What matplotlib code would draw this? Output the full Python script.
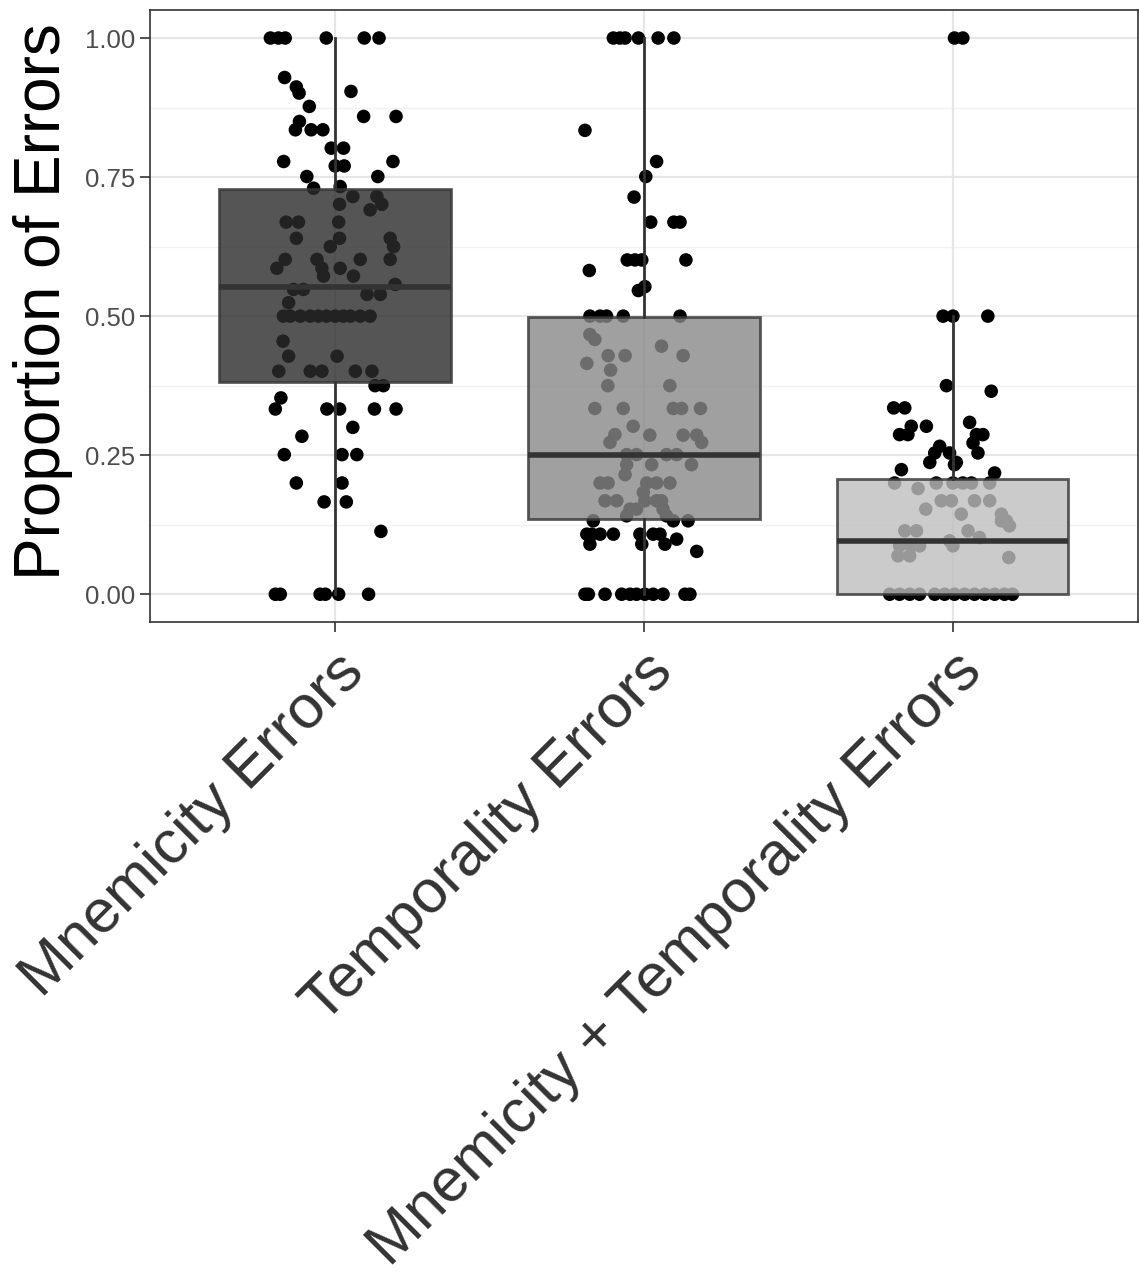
import numpy as np
import matplotlib.pyplot as plt

plt.rcParams['font.family'] = ['Liberation Sans', 'DejaVu Sans']

categories = ["Mnemicity Errors", "Temporality Errors", "Mnemicity + Temporality Errors"]
box_fill = ["#2b2b2b", "#888888", "#bfbfbf"]

# box statistics (q1, median, q3, whisker low, whisker high)
q1 = [0.381, 0.136, 0.0]
medians = [0.553, 0.250, 0.095]
q3 = [0.729, 0.499, 0.208]
whis_lo = [0.0, 0.0, 0.0]
whis_hi = [1.0, 1.0, 0.50]

# jittered observations: value and horizontal jitter (category units)
mnem_y = [1.0, 1.0, 1.0, 1.0, 1.0, 1.0, 0.929, 0.912, 0.901, 0.904, 0.877, 0.859, 0.859,
          0.850, 0.835, 0.835, 0.835, 0.802, 0.802, 0.778, 0.778, 0.770, 0.770, 0.751, 0.751,
          0.730, 0.733, 0.715, 0.715, 0.701, 0.701, 0.691, 0.669, 0.669, 0.669, 0.640, 0.640,
          0.640, 0.625, 0.625, 0.602, 0.602, 0.602, 0.602, 0.586, 0.586, 0.586, 0.572, 0.572,
          0.557, 0.548, 0.548, 0.539, 0.539, 0.524, 0.50, 0.50, 0.50, 0.50, 0.50, 0.50, 0.50,
          0.50, 0.50, 0.50, 0.50, 0.455, 0.428, 0.428, 0.401, 0.401, 0.401, 0.401, 0.401,
          0.375, 0.375, 0.353, 0.333, 0.333, 0.333, 0.333, 0.333, 0.300, 0.284, 0.251, 0.251,
          0.251, 0.200, 0.200, 0.166, 0.166, 0.113, 0.0, 0.0, 0.0, 0.0, 0.0, 0.0]
mnem_jit = [-0.210, -0.184, -0.162, -0.029, 0.094, 0.142, -0.164, -0.126, -0.117, 0.051, -0.084,
            0.092, 0.197, -0.116, -0.129, -0.078, -0.040, -0.013, 0.027, -0.167, 0.187, 0.0,
            0.029, -0.092, 0.138, -0.070, 0.016, 0.057, 0.135, 0.014, 0.151, 0.113, -0.159,
            -0.119, 0.011, -0.126, 0.014, 0.178, -0.016, 0.189, -0.162, -0.059, 0.081, 0.178,
            -0.189, -0.043, 0.016, -0.038, 0.059, 0.194, -0.135, -0.103, 0.103, 0.146, -0.151,
            -0.168, -0.146, -0.113, -0.081, -0.055, -0.029, 0.0, 0.026, 0.049, 0.081, 0.113,
            -0.169, -0.151, 0.006, -0.183, -0.081, -0.043, 0.065, 0.119, 0.129, 0.156, -0.176,
            -0.194, -0.027, 0.014, 0.127, 0.197, 0.057, -0.108, -0.165, 0.022, 0.070, -0.126,
            0.022, -0.036, 0.036, 0.148, -0.194, -0.178, -0.049, -0.032, 0.011, 0.108]

temp_y = [1.0, 1.0, 1.0, 1.0, 1.0, 1.0, 0.834, 0.778, 0.751, 0.714, 0.669, 0.669, 0.669,
          0.601, 0.601, 0.601, 0.601, 0.582, 0.553, 0.546, 0.50, 0.50, 0.50, 0.50, 0.50,
          0.467, 0.458, 0.446, 0.429, 0.429, 0.429, 0.415, 0.403, 0.375, 0.375, 0.334, 0.334,
          0.334, 0.334, 0.334, 0.302, 0.287, 0.273, 0.273, 0.286, 0.286, 0.286, 0.251, 0.251,
          0.251, 0.251, 0.233, 0.233, 0.233, 0.215, 0.200, 0.200, 0.200, 0.200, 0.200, 0.183,
          0.168, 0.168, 0.168, 0.168, 0.168, 0.153, 0.153, 0.153, 0.141, 0.141, 0.132, 0.132,
          0.132, 0.108, 0.108, 0.108, 0.108, 0.108, 0.108, 0.108, 0.099, 0.090, 0.090, 0.090,
          0.077, 0.0, 0.0, 0.0, 0.0, 0.0, 0.0, 0.0, 0.0, 0.0, 0.0, 0.0]
temp_jit = [-0.099, -0.078, -0.061, -0.018, 0.046, 0.097, -0.191, 0.041, 0.006, -0.032, 0.022,
            0.097, 0.117, -0.054, -0.029, -0.007, 0.136, -0.177, 0.003, -0.018, -0.175, -0.142,
            -0.121, -0.067, 0.117, -0.175, -0.159, 0.057, -0.116, -0.061, 0.127, -0.185, -0.108,
            -0.117, 0.084, -0.159, -0.067, 0.095, 0.122, 0.183, -0.035, -0.094, -0.110, 0.187,
            0.019, 0.127, 0.171, -0.056, -0.024, 0.073, 0.106, -0.056, 0.025, 0.154, -0.061,
            -0.142, -0.116, 0.009, 0.041, 0.084, -0.002, -0.126, -0.088, 0.003, 0.041, 0.057,
            -0.045, -0.024, 0.062, -0.056, 0.073, -0.164, 0.095, 0.143, -0.185, -0.169, -0.142,
            -0.099, -0.013, 0.030, 0.052, 0.106, -0.175, -0.007, 0.068, 0.171, -0.191, -0.180,
            -0.126, -0.072, -0.045, -0.024, 0.003, 0.030, 0.062, 0.133, 0.149]

both_y = [1.0, 1.0, 0.50, 0.50, 0.50, 0.375, 0.365, 0.335, 0.335, 0.302, 0.302, 0.309,
          0.287, 0.287, 0.287, 0.287, 0.272, 0.266, 0.254, 0.254, 0.254, 0.237, 0.237, 0.233,
          0.224, 0.218, 0.200, 0.200, 0.200, 0.200, 0.200, 0.200, 0.190, 0.168, 0.168, 0.168,
          0.168, 0.153, 0.144, 0.144, 0.132, 0.132, 0.123, 0.114, 0.114, 0.114, 0.102, 0.096,
          0.087, 0.087, 0.087, 0.087, 0.069, 0.069, 0.066, 0.0, 0.0, 0.0, 0.0, 0.0, 0.0, 0.0,
          0.0, 0.0, 0.0, 0.0, 0.0, 0.0]
both_jit = [0.006, 0.033, -0.031, 0.001, 0.114, -0.020, 0.125, -0.191, -0.155, -0.134, -0.085,
            0.055, -0.172, -0.145, 0.077, 0.098, 0.066, -0.042, -0.058, -0.010, 0.082, -0.074,
            0.012, 0.006, -0.166, 0.136, -0.188, -0.053, 0.001, 0.033, 0.061, 0.120, -0.112,
            -0.037, -0.004, 0.071, 0.120, -0.087, 0.028, 0.158, 0.158, 0.174, 0.184, -0.155,
            -0.117, 0.050, 0.087, -0.010, -0.172, -0.134, -0.107, 0.001, -0.177, -0.139, 0.182,
            -0.204, -0.172, -0.139, -0.107, -0.058, -0.026, 0.006, 0.039, 0.071, 0.104, 0.136,
            0.168, 0.194]

fig = plt.figure(figsize=(11.39, 12.76), dpi=100)
ax = fig.add_axes([0.1317, 0.5125, 0.8673, 0.4795])

# grid like theme_bw
for v in [0.125, 0.375, 0.625, 0.875]:
    ax.axhline(v, color="#f2f2f2", lw=1.0, zorder=0)
for v in [0.0, 0.25, 0.5, 0.75, 1.0]:
    ax.axhline(v, color="#e6e6e6", lw=1.6, zorder=0)
for v in [1, 2, 3]:
    ax.axvline(v, color="#e6e6e6", lw=1.6, zorder=0)

# points first, boxes drawn on top with alpha
for i, (ys, js) in enumerate([(mnem_y, mnem_jit), (temp_y, temp_jit), (both_y, both_jit)]):
    ax.scatter(np.array(js) + i + 1, ys, s=95, color="black", edgecolors="none", zorder=2)

stats = []
for i in range(3):
    stats.append(dict(med=medians[i], q1=q1[i], q3=q3[i],
                      whislo=whis_lo[i], whishi=whis_hi[i], fliers=[]))
bp = ax.bxp(stats, positions=[1, 2, 3], widths=0.75, patch_artist=True,
            showcaps=False, showfliers=False,
            boxprops=dict(edgecolor="#333333", linewidth=2.0),
            whiskerprops=dict(color="#333333", linewidth=2.0),
            medianprops=dict(color="#333333", linewidth=4.0))
for patch, c in zip(bp["boxes"], box_fill):
    patch.set_facecolor(c)
    patch.set_alpha(0.8)
    patch.set_edgecolor("#333333")
    patch.set_zorder(3)
for w in bp["whiskers"]:
    w.set_zorder(3)
for m in bp["medians"]:
    m.set_zorder(4)

ax.set_xlim(0.4, 3.6)
ax.set_ylim(-0.05, 1.05)
ax.set_yticks([0.0, 0.25, 0.5, 0.75, 1.0])
ax.set_yticklabels(["0.00", "0.25", "0.50", "0.75", "1.00"], fontsize=18.5, color="#4d4d4d")
ax.set_xticks([1, 2, 3])
ax.set_xticklabels(categories, fontsize=44, color="#333333", rotation=45,
                   ha="right", rotation_mode="anchor")
ax.tick_params(axis="both", length=7, width=1.2, color="#333333")
ax.tick_params(axis="y", pad=3.5)
ax.tick_params(axis="x", pad=8)
ax.set_ylabel("Proportion of Errors", fontsize=46, color="black")
ax.yaxis.set_label_coords(-0.078, 0.523)
for s in ax.spines.values():
    s.set_color("#333333")
    s.set_linewidth(1.2)

fig.savefig("out.png", dpi=100)
